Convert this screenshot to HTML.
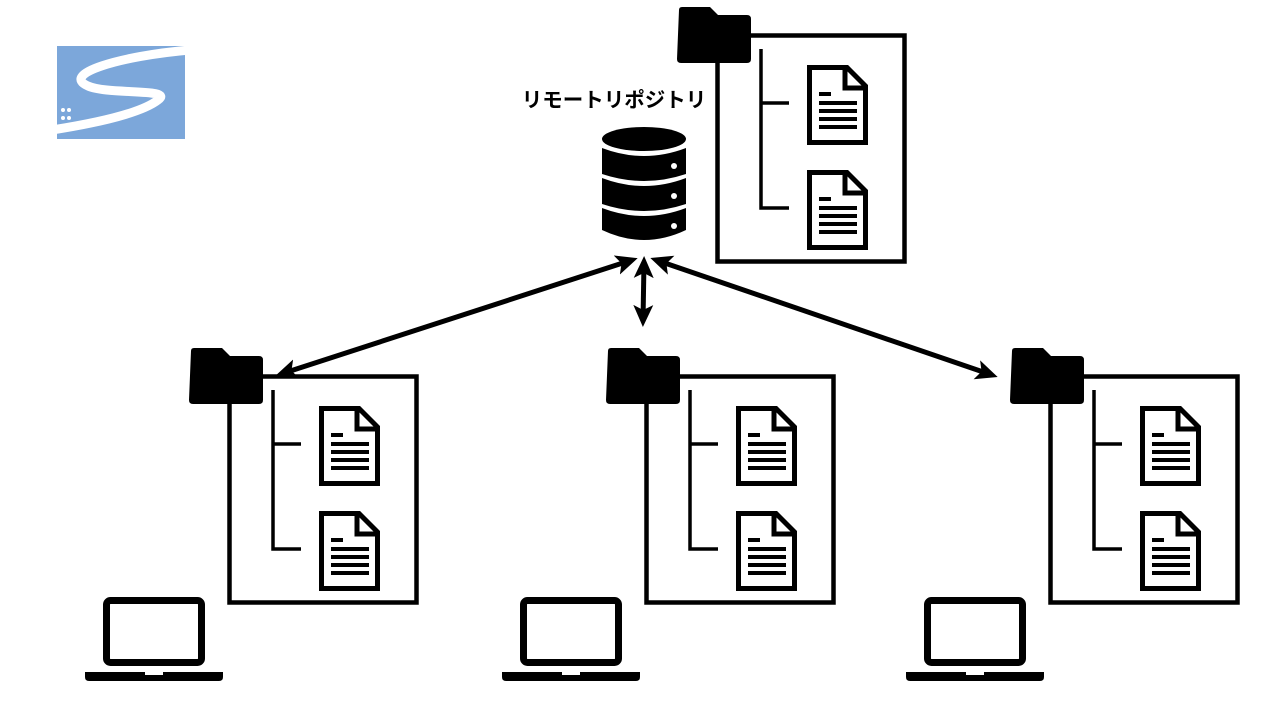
<!DOCTYPE html>
<html><head><meta charset="utf-8"><style>
html,body{margin:0;padding:0;background:#fff;width:1280px;height:720px;overflow:hidden}
</style></head><body>
<svg width="1280" height="720" viewBox="0 0 1280 720" xmlns="http://www.w3.org/2000/svg">
<defs>
<g id="doc">
  <path d="M2.5 2.5 H40 L58.5 21 V77.5 H2.5 Z" fill="#fff" stroke="#000" stroke-width="5"/>
  <path d="M38 2.5 V23 H58.5" fill="none" stroke="#000" stroke-width="5"/>
  <rect x="12" y="27" width="12" height="4"/>
  <rect x="12" y="36" width="38" height="4"/>
  <rect x="12" y="44" width="38" height="4"/>
  <rect x="12" y="52" width="38" height="4"/>
  <rect x="12" y="60" width="38" height="4"/>
</g>
<g id="unit">
  <rect x="229.5" y="376.5" width="187" height="226" fill="#fff" stroke="#000" stroke-width="4.5"/>
  <path d="M191 351 q0-3 3-3 h28 l8 8 h29 q4 0 4 4 v40 q0 4-4 4 h-66 q-4 0-4-4 z" fill="#000"/>
  <path d="M273 390 V549 H301 M273 444 H301" fill="none" stroke="#000" stroke-width="3.5"/>
  <use href="#doc" x="319" y="406"/>
  <use href="#doc" x="319" y="511"/>
</g>
<g id="laptop">
  <rect x="106.5" y="600.5" width="95" height="62" rx="4" fill="none" stroke="#000" stroke-width="7"/>
  <path d="M85 672 H223 V677 q0 4-4 4 H89 q-4 0-4-4 Z" fill="#000"/>
  <rect x="145" y="672" width="18" height="3" fill="#fff"/>
</g>
<marker id="ah" markerWidth="22" markerHeight="20" refX="16" refY="10" orient="auto-start-reverse" markerUnits="userSpaceOnUse">
  <path d="M0 0 L22 10 L0 20 L5 10 Z" fill="#000"/>
</marker>
</defs>

<!-- logo -->
<rect x="57" y="46" width="128" height="93" fill="#7ca7da"/>
<path d="M190 50 C120 56 60 74 88 86 C108 95 175 88 158 100 C140 114 90 124 52 130" fill="none" stroke="#fff" stroke-width="9"/>
<circle cx="63" cy="110" r="2" fill="#fff"/><circle cx="69" cy="110" r="2" fill="#fff"/>
<circle cx="63" cy="118" r="2" fill="#fff"/><circle cx="69" cy="118" r="2" fill="#fff"/>

<!-- units -->
<use href="#unit"/>
<use href="#unit" x="417"/>
<use href="#unit" x="821"/>
<use href="#unit" x="488" y="-341"/>

<use href="#laptop"/>
<use href="#laptop" x="417"/>
<use href="#laptop" x="821"/>

<!-- label -->
<text x="614" y="107" text-anchor="middle" font-family="'Liberation Sans','Noto Sans CJK JP',sans-serif" font-weight="bold" font-size="20.5" fill="#000">リモートリポジトリ</text>

<!-- database -->
<g>
  <ellipse cx="644" cy="139" rx="42" ry="12" fill="#000"/>
  <path d="M602 148 q42 16 84 0 v26 q-42 14-84 0 z" fill="#000"/>
  <path d="M602 178 q42 16 84 0 v26 q-42 14-84 0 z" fill="#000"/>
  <path d="M602 208 q42 16 84 0 v22 q-42 20-84 0 z" fill="#000"/>
  <circle cx="674" cy="166" r="3" fill="#fff"/>
  <circle cx="674" cy="196" r="3" fill="#fff"/>
  <circle cx="674" cy="226" r="3" fill="#fff"/>
</g>

<!-- arrows -->
<g stroke="#000" stroke-width="5" fill="none">
  <line x1="632" y1="260" x2="281" y2="374" marker-end="url(#ah)" marker-start="url(#ah)"/>
  <line x1="656" y1="260" x2="992" y2="375" marker-end="url(#ah)" marker-start="url(#ah)"/>
  <line x1="644" y1="262" x2="643" y2="321" marker-end="url(#ah)" marker-start="url(#ah)"/>
</g>
</svg>
</body></html>
